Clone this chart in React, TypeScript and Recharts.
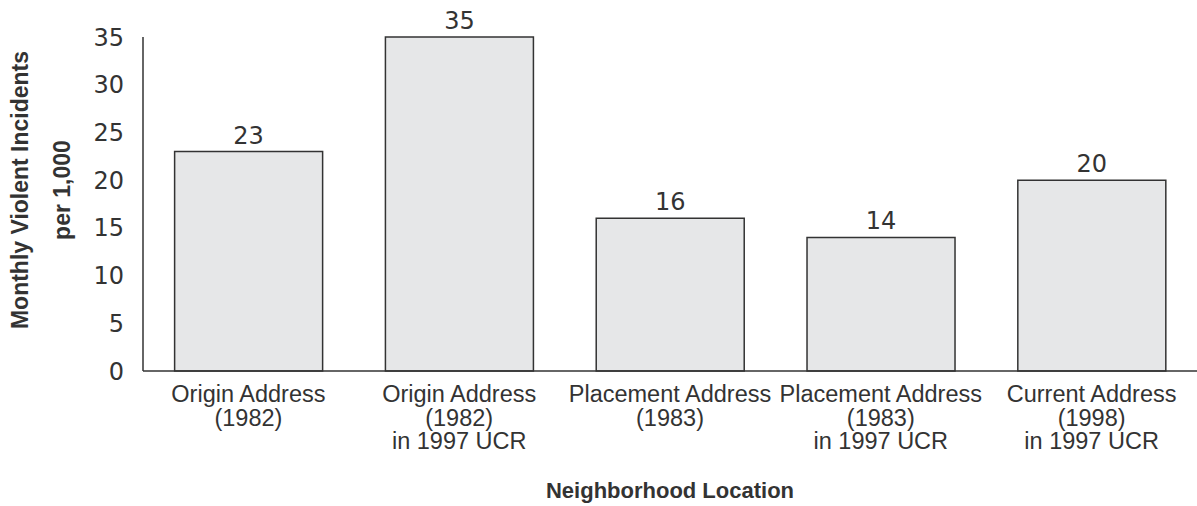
import { BarChart, Bar, XAxis, YAxis, LabelList } from "recharts";

const categories = [
  ["Origin Address", "(1982)"],
  ["Origin Address", "(1982)", "in 1997 UCR"],
  ["Placement Address", "(1983)"],
  ["Placement Address", "(1983)", "in 1997 UCR"],
  ["Current Address", "(1998)", "in 1997 UCR"],
];
const incidents = [23, 35, 16, 14, 20];
const yTicks = [0, 5, 10, 15, 20, 25, 30, 35];

const data = categories.map((lines, i) => ({ name: lines.join("|"), value: incidents[i] }));

const INK = "#333";
const NUM_FONT = "'DejaVu Sans', sans-serif";
const TXT_FONT = "'Liberation Sans', Arial, sans-serif";

const YTick = ({ x, y, payload }: any) => (
  <text x={x - 11} y={y} dy="0.36em" textAnchor="end" fill={INK} fontSize={24} fontFamily={NUM_FONT}>
    {payload.value}
  </text>
);

const XTick = ({ x, y, payload }: any) => {
  const lines = String(payload.value).split("|");
  return (
    <g>
      {lines.map((l, i) => (
        <text key={i} x={x} y={y + 23 + i * 23.5} textAnchor="middle" fill={INK} fontSize={23.5} fontFamily={TXT_FONT}>
          {l}
        </text>
      ))}
    </g>
  );
};

export default function App() {
  return (
    <div style={{ position: "absolute", left: 0, top: 0, width: 1197, height: 506, background: "white" }}>
      <BarChart
        width={1197}
        height={506}
        data={data}
        margin={{ top: 37, right: 0, left: 83, bottom: 35 }}
        barCategoryGap="15%"
      >
        <XAxis
          dataKey="name"
          tick={<XTick />}
          tickLine={false}
          axisLine={{ stroke: INK, strokeWidth: 1.5 }}
          height={100}
          interval={0}
        />
        <YAxis
          domain={[0, 35]}
          ticks={yTicks}
          tick={<YTick />}
          tickLine={false}
          axisLine={{ stroke: INK, strokeWidth: 1.5 }}
          width={60}
        />
        <Bar dataKey="value" fill="#e6e7e8" stroke={INK} strokeWidth={1.5} isAnimationActive={false}>
          <LabelList dataKey="value" position="top" offset={8} fill={INK} fontSize={24} fontFamily={NUM_FONT} />
        </Bar>
        <text x={670} y={498} textAnchor="middle" fill={INK} fontSize={22} fontWeight="bold" fontFamily={TXT_FONT}>
          Neighborhood Location
        </text>
        <text transform="translate(28,190) rotate(-90)" textAnchor="middle" fill={INK} fontSize={23} fontWeight="bold" fontFamily={TXT_FONT}>
          Monthly Violent Incidents
        </text>
        <text transform="translate(70,190) rotate(-90)" textAnchor="middle" fill={INK} fontSize={23} fontWeight="bold" fontFamily={TXT_FONT}>
          per 1,000
        </text>
      </BarChart>
    </div>
  );
}
